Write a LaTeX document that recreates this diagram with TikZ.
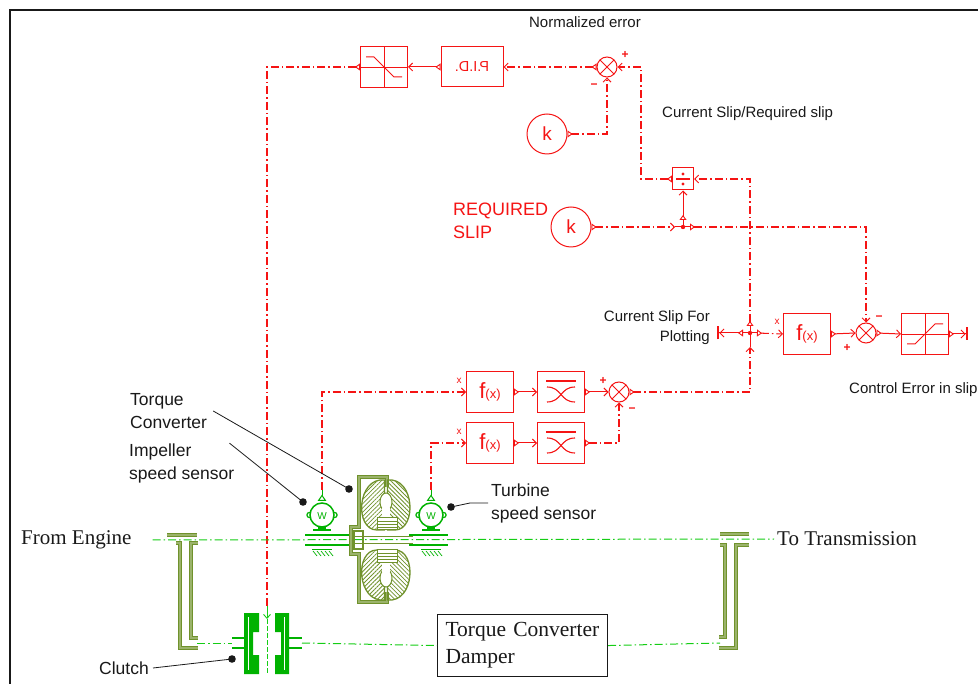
\documentclass[tikz,border=0pt]{standalone}
\usepackage{fontspec}
\setmainfont{Liberation Serif}
\setsansfont{Liberation Sans}
\usetikzlibrary{arrows.meta,patterns.meta}

\definecolor{sred}{RGB}{245,20,20}
\definecolor{sgreen}{RGB}{0,178,0}
\definecolor{lgreen}{RGB}{20,205,20}
\definecolor{olv}{RGB}{112,146,44}
\definecolor{ink}{RGB}{25,25,25}

\newcommand\fofx{{\fontsize{22}{22}\selectfont f}{\fontsize{13}{13}\selectfont (x)}}

\begin{document}
\begin{tikzpicture}[x=1pt,y=-1pt,
  sig/.style={draw=sred, line width=1.05pt, dash pattern=on 8pt off 3pt on 1.5pt off 3pt},
  link/.style={draw=sred, line width=1pt},
  oi/.style={arrows={{Triangle[open,reversed,length=5pt,width=7pt,line width=0.9pt]}-{Straight Barb[length=4pt,width=8pt,line width=0.9pt]}}},
  oo/.style={arrows={{Triangle[open,reversed,length=5pt,width=7pt,line width=0.9pt]}-}},
  ii/.style={arrows={-{Straight Barb[length=4pt,width=8pt,line width=0.9pt]}}},
  ot/.style={arrows={{Triangle[open,reversed,length=5pt,width=7pt,line width=0.9pt]}-{Straight Barb[length=4pt,width=8pt,line width=0.9pt]Bar[width=13pt,line width=2.4pt]}}},
  blk/.style={draw=sred, line width=1pt, fill=white, minimum width=47pt, minimum height=41pt, inner sep=0pt, text=sred, font=\sffamily},
  sumj/.style={circle, draw=sred, line width=1pt, fill=white, minimum size=20pt, inner sep=0pt,
    path picture={\draw[sred,line width=0.9pt] (path picture bounding box.north west) -- (path picture bounding box.south east)
      (path picture bounding box.north east) -- (path picture bounding box.south west);}},
  kblk/.style={circle, draw=sred, line width=1pt, fill=white, minimum size=40pt, inner sep=0pt, text=sred,
    font=\sffamily\fontsize{19}{19}\selectfont},
  satpos/.style={path picture={\begin{scope}[shift={(path picture bounding box.center)}]
      \draw[sred,line width=0.9pt] (-24,0) -- (24,0) (0,-21) -- (0,21);
      \draw[sred,line width=1pt] (-18,10) -- (-10,10) -- (10,-10) -- (18,-10);
    \end{scope}}},
  satneg/.style={path picture={\begin{scope}[shift={(path picture bounding box.center)}]
      \draw[sred,line width=0.9pt] (-24,0) -- (24,0) (0,-21) -- (0,21);
      \draw[sred,line width=1pt] (-18,-10) -- (-10,-10) -- (10,10) -- (18,10);
    \end{scope}}},
  avg/.style={path picture={\begin{scope}[shift={(path picture bounding box.center)}]
      \draw[sred,line width=1.1pt] (-15,-11) -- (15,-11);
      \draw[sred,line width=1.1pt] (-14,-5) .. controls (1,-5) and (-1,10) .. (14,10);
      \draw[sred,line width=1.1pt] (14,-5) .. controls (-1,-5) and (1,10) .. (-14,10);
    \end{scope}}},
  divblk/.style={draw=sred, line width=1pt, fill=white, minimum width=21pt, minimum height=22pt, inner sep=0pt,
    path picture={\begin{scope}[shift={(path picture bounding box.center)}]
      \draw[sred,line width=2pt] (-7,0) -- (7,0);
      \fill[sred] (0,-5) circle (1.6) (0,5) circle (1.6);
    \end{scope}}},
  sgn/.style={text=sred, font=\sffamily\bfseries\fontsize{12}{12}\selectfont, inner sep=0pt},
  xmark/.style={text=sred, font=\sffamily\fontsize{10}{10}\selectfont, inner sep=0pt},
  lab/.style={text=ink, font=\sffamily\fontsize{15}{20}\selectfont, inner sep=0pt},
  blab/.style={text=ink, font=\sffamily\fontsize{17.5}{23}\selectfont, inner sep=0pt, align=left},
  slab/.style={text=ink, font=\rmfamily\fontsize{21}{27}\selectfont, inner sep=0pt},
  gline/.style={draw=lgreen, line width=1pt, dash pattern=on 8pt off 3pt on 1.5pt off 3pt},
  odbl/.style={draw=olv, line width=1.3pt, double=olv!70!white, double distance=1.2pt},
  spdsensor/.pic={
    \draw[sgreen, line width=1pt] (0,-19) -- (0,-25);
    \draw[sgreen, line width=1pt, fill=white] (-3.5,-14.5) -- (0,-19.5) -- (3.5,-14.5) -- cycle;
    \fill[sgreen] (-4,10) rectangle (4,14);
    \draw[sgreen, line width=2pt] (-9,15.5) -- (9,15.5);
    \draw[sgreen, line width=1.2pt, fill=white] (-12.5,0) circle (2.6) (12.5,0) circle (2.6);
    \draw[sgreen, line width=1.5pt, fill=white] (0,0) circle (12);
    \node[text=sgreen, font=\sffamily\fontsize{10}{10}\selectfont, inner sep=0pt] at (0,1) {W};
    \draw[sgreen, line width=1pt] (-10,35) -- (10,35);
    \foreach \h in {-9,-5,-1,3,7} \draw[sgreen, line width=0.7pt] (\h,36) -- (\h+4,41);
  },
  tclobe/.pic={
    \draw[olv, line width=1.3pt, pattern={Lines[angle=45,distance=3pt,line width=0.8pt]}, pattern color=olv]
      (-1.5,-60) .. controls (-29,-63) and (-32,-10) .. (-9,-10) -- (-1.5,-10) -- cycle;
    \draw[olv, line width=1.3pt, pattern={Lines[angle=-45,distance=3pt,line width=0.8pt]}, pattern color=olv]
      (1.5,-60) .. controls (29,-63) and (31,-10) .. (9,-10) -- (1.5,-10) -- cycle;
    \draw[olv, line width=1pt, fill=white] (0,-38) ellipse [x radius=6, y radius=9];
    \fill[white] (-4,-32) rectangle (4,-22);
    \draw[olv, line width=1pt, fill=white] (-9,-22) rectangle (11,-10);
    \foreach \v in {-19,-16,-13} \draw[olv, line width=0.7pt] (-9,\v) -- (11,\v);
  }
]
\useasboundingbox (0,0) rectangle (978,684);

% frame
\draw[ink, line width=2pt] (978,10) -- (10,10) -- (10,684);

% ---------- control blocks ----------
\node[blk, satneg] (sat1) at (384,67) {};
\node[blk, minimum width=62pt, minimum height=40pt, font=\sffamily\fontsize{14.5}{14.5}\selectfont] (pid) at (472,67) {\scalebox{-1}[1]{P.I.D.}};
\node[sumj] (sum1) at (607,67) {};
\node[kblk] (k1) at (547,134) {k};
\node[divblk] (div) at (683,179) {};
\node[kblk] (k2) at (571,227) {k};
\node[blk, font=\sffamily] (fx3) at (807,334) {\fofx};
\node[sumj] (sum3) at (866,333) {};
\node[blk, satpos] (sat2) at (925,334) {};
\node[blk] (fx1) at (490,392) {\fofx};
\node[blk, avg] (flt1) at (561,392) {};
\node[sumj] (sum2) at (619,392) {};
\node[blk] (fx2) at (490,443) {\fofx};
\node[blk, avg] (flt2) at (561,443) {};

% branch points and terminals
\coordinate (bp1) at (683,227);
\coordinate (bp1in) at (675,227);
\coordinate (bp1up) at (683,220);
\coordinate (bp1rt) at (690,227);
\coordinate (bp2) at (750,333);
\coordinate (bp2dn) at (750,347);
\coordinate (bp2up) at (750,326);
\coordinate (bp2lt) at (743,333);
\coordinate (bp2rt) at (757,333);
\coordinate (termL) at (717,333);
\coordinate (termR) at (968,334);
\coordinate (impP) at (322,490);
\coordinate (turP) at (431,490);
\coordinate (ctop) at (267,606);
\coordinate (ctip) at (267,619);

% ---------- signal connectors ----------
\draw[sig, oi] (sum1.west) -- (pid.east);
\draw[link, oi] (pid.west) -- (sat1.east);
\draw[sig, oo] (sat1.west) -| (ctop);
\draw[lgreen, line width=1pt, -{Straight Barb[length=4pt,width=7pt,line width=0.9pt]}] (ctop) -- (ctip);
\draw[sig, oi] (k1.east) -| (sum1.south);
\draw[sig, oi] (div.west) -- ++(-31,0) |- (sum1.east);

\draw[sig, oi] (k2.east) -- (bp1in);
\draw[link] (bp1in) -- (bp1) (bp1) -- (bp1up) (bp1) -- (bp1rt);
\draw[link, oi] (bp1up) -- (div.south);
\draw[sig, oi] (bp1rt) -| (sum3.north);
\fill[sred] (bp1) circle (2.2);

\draw[sig, oi] (sum2.east) -| (bp2dn);
\draw[link] (bp2dn) -- (bp2) (bp2) -- (bp2up) (bp2) -- (bp2lt) (bp2) -- (bp2rt);
\draw[sig, oi] (bp2up) |- (div.east);
\draw[link, ot] (bp2lt) -- (termL);
\draw[sig, oi] (bp2rt) -- (fx3.west);
\fill[sred] (bp2) circle (2.2);

\draw[link, oi] (fx3.east) -- (sum3.west);
\draw[link, oi] (sum3.east) -- (sat2.west);
\draw[link, ot] (sat2.east) -- (termR);

\draw[sig, ii] (impP) |- (fx1.west);
\draw[sig, ii] (turP) |- (fx2.west);
\draw[link, oi] (fx1.east) -- (flt1.west);
\draw[link, oi] (fx2.east) -- (flt2.west);
\draw[link, oi] (flt1.east) -- (sum2.west);
\draw[sig, oi] (flt2.east) -| (sum2.south);

% signs on inputs
\node[sgn] at (625,55) {+};
\node[sgn] at (594,86) {\textminus};
\node[sgn] at (879,318) {\textminus};
\node[sgn] at (847,348) {+};
\node[sgn] at (603,381) {+};
\node[sgn] at (632,410) {\textminus};
\node[xmark] at (777,322) {x};
\node[xmark] at (459,381) {x};
\node[xmark] at (459,432) {x};

% ---------- labels ----------
\node[lab] (nerr) at (585,22) {Normalized error};
\node[lab, anchor=west] (cslab) at (662,114) {Current Slip/Required slip};
\node[text=sred, font=\sffamily\fontsize{18}{23}\selectfont, align=left, inner sep=0pt, anchor=west] (req) at (453,221) {REQUIRED\\SLIP};
\node[lab, align=right, anchor=east] (plot) at (710,328) {Current Slip For\\Plotting};
\node[lab, anchor=west] (cerr) at (849,390) {Control Error in slip};

% ---------- drive line ----------
\node[slab, anchor=west] (engine) at (21,540) {From Engine};
\node[slab, anchor=west] (trans) at (777,539) {To Transmission};
\draw[gline] ([xshift=21pt]engine.east) -- ([xshift=-3pt]trans.west);

\node[draw=ink, line width=1.1pt, fill=white, text width=154pt, minimum height=62pt, inner xsep=8pt, align=left,
  anchor=north west, text=ink, font=\rmfamily\fontsize{21.5}{27}\selectfont] (damper) at (437,614) {Torque Converter\\Damper};

% lower shaft line
\coordinate (lbr) at (197,643);
\coordinate (rbr) at (720,643);
\coordinate (clL) at (232,643);
\coordinate (clR) at (302,643);
\draw[gline] (lbr) -- (clL);
\draw[gline] (clR) -- (damper.west);
\draw[gline] (damper.east) -- (rbr);

% flywheel brackets
\draw[odbl] (167,535) -- (197,535);
\draw[odbl] (176,543) -- (180,543) -- (180,648) -- (198,648);
\draw[odbl] (198,543) -- (191,543) -- (191,638) -- (198,638);
\draw[odbl] (720,534) -- (749,534);
\draw[odbl] (720,545) -- (725,545) -- (725,637) -- (719,637);
\draw[odbl] (749,545) -- (736,545) -- (736,648) -- (719,648);

% clutch
\draw[lgreen, line width=1pt, dash pattern=on 5pt off 2pt] (ctip) -- (267,674);
\draw[sgreen, line width=2.4pt] (232,638) -- (247,638) (232,648) -- (247,648) (286,638) -- (302,638) (286,648) -- (302,648);
\fill[sgreen] (244,613) -- (259,613) -- (259,632) -- (253,632) -- (253,655) -- (259,655) -- (259,674) -- (244,674) -- cycle;
\fill[sgreen] (289,613) -- (275,613) -- (275,632) -- (281,632) -- (281,655) -- (275,655) -- (275,674) -- (289,674) -- cycle;
\draw[white, line width=0.8pt] (248.5,617) -- (248.5,670) (284.5,617) -- (284.5,670);

% speed sensors and shafts
\draw[sgreen, line width=2.6pt] (305,535) -- (349,535) (305,545) -- (349,545);
\draw[sgreen, line width=2.6pt] (409,535) -- (448,535) (409,545) -- (448,545);
\pic at (322,515) {spdsensor};
\pic at (431,515) {spdsensor};

% torque converter
\draw[olv, line width=1.3pt] (353,536.5) -- (413,536.5) (353,543.5) -- (413,543.5);
\draw[olv, line width=1.3pt] (354,531) rectangle (363,549);
\draw[odbl] (387,487) -- (387,477) -- (359,477) -- (359,527) -- (351,527) -- (351,554) -- (359,554) -- (359,602) -- (387,602) -- (387,592);
\pic at (386,540) {tclobe};
\pic[yscale=-1] at (386,540) {tclobe};

% ---------- callouts ----------
\node[blab, anchor=west] (tclab) at (130,411) {Torque\\Converter};
\node[blab, anchor=west] (implab) at (129,463) {Impeller\\speed sensor};
\node[blab, anchor=west] (turlab) at (491,503) {Turbine\\speed sensor};
\node[blab, anchor=east] (cllab) at (149,668) {Clutch};
\coordinate (tcdot) at (349,489);
\coordinate (impdot) at (303,502);
\coordinate (turdot) at (451,507);
\coordinate (cldot) at (232,659);
\draw[ink, line width=0.8pt] ([xshift=6pt]tclab.east) -- (tcdot);
\draw[ink, line width=0.8pt] ([xshift=-5pt]implab.north east) -- (impdot);
\draw[ink, line width=0.8pt] (turdot) -- (470,503) -- ([xshift=-3pt]turlab.west);
\draw[ink, line width=0.8pt] ([xshift=4pt]cllab.east) -- (cldot);
\fill[ink] (tcdot) circle (3.8) (impdot) circle (3.8) (turdot) circle (3.8) (cldot) circle (3.8);
\end{tikzpicture}
\end{document}
